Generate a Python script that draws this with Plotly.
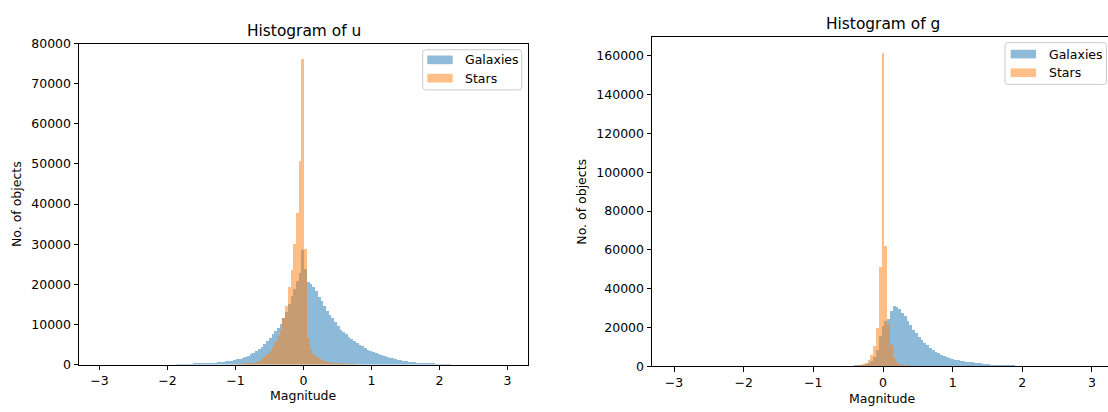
import numpy as np
import plotly.graph_objects as go

# ---------------- data (histogram counts, in thousands of objects) ----------------
bin_width = 0.04

# Histogram of u
u_gal_first_center = -1.85
u_gal_counts_k = [0.03, 0.08, 0.12, 0.15, 0.18, 0.2, 0.22, 0.25, 0.28, 0.32, 0.36, 0.4, 0.45, 0.5, 0.55,
                  0.62, 0.7, 0.78, 0.85, 0.95, 1.05, 1.2, 1.35, 1.55, 1.75, 2.0, 2.3, 2.6, 3.0, 3.4, 3.9,
                  4.5, 5.1, 5.9, 6.7, 7.6, 8.4, 9.2, 10.2, 11.6, 13.3, 15.2, 17.2, 19.0, 21.0, 23.0,
                  28.6, 24.0,
                  20.7, 20.2, 19.4, 18.3, 17.0, 16.0, 14.6, 13.5, 12.4, 11.6, 10.6, 9.8, 8.8, 8.2, 7.6,
                  7.0, 6.4, 5.9, 5.4, 5.0, 4.6, 4.2, 3.8, 3.5, 3.2, 3.0, 2.8, 2.55, 2.3, 2.0, 1.8, 1.6,
                  1.45, 1.3, 1.1, 1.0, 0.9, 0.8, 0.7, 0.6, 0.55, 0.5, 0.45, 0.4, 0.35, 0.3, 0.25, 0.2,
                  0.15, 0.1, 0.08, 0.06, 0.04]
u_star_first_center = -1.01
u_star_counts_k = [0.06, 0.1, 0.15, 0.2, 0.25, 0.32, 0.42, 0.55, 0.75, 1.0, 1.4, 1.9, 2.6, 3.4, 4.4,
                   5.6, 7.2, 8.8, 11.6, 14.8, 19.4, 23.7, 30.2, 37.8, 50.8,
                   76.2,
                   29.0, 6.6, 4.0, 2.6, 2.0, 1.6, 1.25, 1.0, 0.8, 0.65, 0.5, 0.42, 0.35, 0.3, 0.25,
                   0.2, 0.16, 0.1, 0.05]

# Histogram of g
g_gal_first_center = -0.52
g_gal_counts_k = [0.08, 0.15, 0.25, 0.35, 0.45, 0.6, 0.8, 1.1, 1.7, 2.8, 5.0, 8.5, 15.5,
                  21.0, 23.5, 24.5, 28.5, 31.0, 30.4, 29.4, 27.8, 25.8, 23.3, 21.2, 18.8, 17.2, 15.4,
                  13.7, 12.1, 10.9, 9.6, 8.6, 7.6, 6.8, 6.0, 5.3, 4.8, 4.3, 4.0, 3.5, 3.2, 3.0, 2.8,
                  2.6, 2.4, 2.2, 2.0, 1.8, 1.6, 1.4, 1.25, 1.1, 0.95, 0.85, 0.75, 0.65, 0.55, 0.5,
                  0.4, 0.35, 0.3, 0.2, 0.05]
g_star_first_center = -0.44
g_star_counts_k = [0.12, 0.25, 0.4, 0.7, 1.2, 2.0, 3.3, 5.8, 10.7, 20.0, 51.0,
                   161.6,
                   62.0, 22.0, 11.0, 4.5, 2.2, 1.4, 0.9, 0.6, 0.35, 0.2, 0.1]

series_names = ["Galaxies", "Stars"]
panel_titles = ["Histogram of u", "Histogram of g"]
x_label = "Magnitude"
y_label = "No. of objects"

x_tick_vals = [-3, -2, -1, 0, 1, 2, 3]
x_tick_text = ["\u22123", "\u22122", "\u22121", "0", "1", "2", "3"]
u_y_ticks = [0, 10000, 20000, 30000, 40000, 50000, 60000, 70000, 80000]
g_y_ticks = [0, 20000, 40000, 60000, 80000, 100000, 120000, 140000, 160000]

# ---------------- styling ----------------
W, H = 1108, 412
FONT = "DejaVu Sans"
C_GAL = "#1f77b4"
C_STAR = "#ff7f0e"
TICK_FS = 12.5
TITLE_FS = 15.4


def px_x(p):
    return p / W


def px_y(p):
    return 1 - p / H


def centers(first, counts):
    return first + bin_width * np.arange(len(counts))


def kcounts(c):
    return np.array(c) * 1000.0


fig = go.Figure()

panels = [
    ("x", "y", u_gal_first_center, u_gal_counts_k, u_star_first_center, u_star_counts_k),
    ("x2", "y2", g_gal_first_center, g_gal_counts_k, g_star_first_center, g_star_counts_k),
]
for xa, ya, gf, gc, sf, sc in panels:
    fig.add_trace(go.Bar(x=centers(gf, gc), y=kcounts(gc), width=bin_width, name=series_names[0],
                         marker=dict(color=C_GAL, line=dict(width=0)), opacity=0.5,
                         xaxis=xa, yaxis=ya, showlegend=False, hoverinfo="x+y"))
    fig.add_trace(go.Bar(x=centers(sf, sc), y=kcounts(sc), width=bin_width, name=series_names[1],
                         marker=dict(color=C_STAR, line=dict(width=0)), opacity=0.5,
                         xaxis=xa, yaxis=ya, showlegend=False, hoverinfo="x+y"))

axis_common = dict(showgrid=False, zeroline=False, showline=True, linecolor="black", linewidth=1,
                   ticks="outside", ticklen=4.5, tickwidth=1, tickcolor="black",
                   tickfont=dict(family=FONT, size=TICK_FS, color="black"), fixedrange=True)

fig.update_layout(
    width=W, height=H,
    margin=dict(l=0, r=0, t=0, b=0),
    paper_bgcolor="white", plot_bgcolor="white",
    barmode="overlay", bargap=0,
    showlegend=False,
    font=dict(family=FONT, color="black"),
    xaxis=dict(domain=[px_x(79), px_x(528)], range=[-3.3, 3.3], anchor="y", mirror=True,
               tickvals=x_tick_vals, ticktext=x_tick_text, **axis_common),
    yaxis=dict(domain=[px_y(370), px_y(37)], range=[0, 80000], anchor="x", mirror=True,
               tickvals=u_y_ticks, ticktext=[str(v) for v in u_y_ticks], **axis_common),
    xaxis2=dict(domain=[px_x(652), 1.0], range=[-3.316, 3.230], anchor="y2", mirror=True,
                tickvals=x_tick_vals, ticktext=x_tick_text, **axis_common),
    yaxis2=dict(domain=[px_y(372), px_y(30)], range=[0, 169600], anchor="x2", mirror=False,
                tickvals=g_y_ticks, ticktext=[str(v) for v in g_y_ticks], **axis_common),
)

ann = []


def add_text(text, x, y, size, angle=0, xanchor="center"):
    ann.append(dict(text=text, x=px_x(x), y=px_y(y), xref="paper", yref="paper",
                    xanchor=xanchor, yanchor="middle", showarrow=False, textangle=angle,
                    font=dict(family=FONT, size=size, color="black")))


# titles and axis labels
add_text(panel_titles[0], 303.5, 24, TITLE_FS)
add_text(panel_titles[1], 883, 16.7, TITLE_FS)
add_text(x_label, 303.5, 402.5, TICK_FS)
add_text(x_label, 882.5, 405, TICK_FS)
add_text(y_label, 16, 203.5, TICK_FS, angle=-90)
add_text(y_label, 582, 201, TICK_FS, angle=-90)

shapes = []


def rounded_rect(x0, y0, x1, y1, r):
    rx, ry = r / W, r / H
    X0, X1 = px_x(x0), px_x(x1)
    Y0, Y1 = px_y(y0), px_y(y1)  # Y0 top, Y1 bottom
    return (f"M {X0 + rx} {Y0} L {X1 - rx} {Y0} Q {X1} {Y0} {X1} {Y0 - ry} "
            f"L {X1} {Y1 + ry} Q {X1} {Y1} {X1 - rx} {Y1} L {X0 + rx} {Y1} "
            f"Q {X0} {Y1} {X0} {Y1 + ry} L {X0} {Y0 - ry} Q {X0} {Y0} {X0 + rx} {Y0} Z")


def legend(box, patch_x, patch_ys, text_x, text_ys):
    shapes.append(dict(type="path", path=rounded_rect(*box, 3), xref="paper", yref="paper",
                       fillcolor="rgba(255,255,255,0.8)", line=dict(color="#cccccc", width=1),
                       layer="above"))
    for (py0, py1), col in zip(patch_ys, [C_GAL, C_STAR]):
        shapes.append(dict(type="rect", xref="paper", yref="paper",
                           x0=px_x(patch_x[0]), x1=px_x(patch_x[1]), y0=px_y(py1), y1=px_y(py0),
                           fillcolor=col, opacity=0.5, line=dict(width=0), layer="above"))
    for name, ty in zip(series_names, text_ys):
        add_text(name, text_x, ty, TICK_FS, xanchor="left")


legend((422.7, 43.3, 521.7, 85.0), (427.3, 452.7), [(49.3, 58.3), (68.3, 77.3)], 463.3, [53.8, 72.8])
legend((1005.0, 36.0, 1106.5, 79.3), (1010.7, 1036.0), [(43.3, 52.3), (62.7, 71.7)], 1047.3, [47.8, 67.2])

fig.update_layout(annotations=ann, shapes=shapes)

# the figure fills the whole 1108x412 page: drop the default 8px body margin
fig.write_html("out.html",
               config={"displayModeBar": False},
               post_script="document.body.style.margin='0px';"
                           "document.documentElement.style.overflow='hidden';")
